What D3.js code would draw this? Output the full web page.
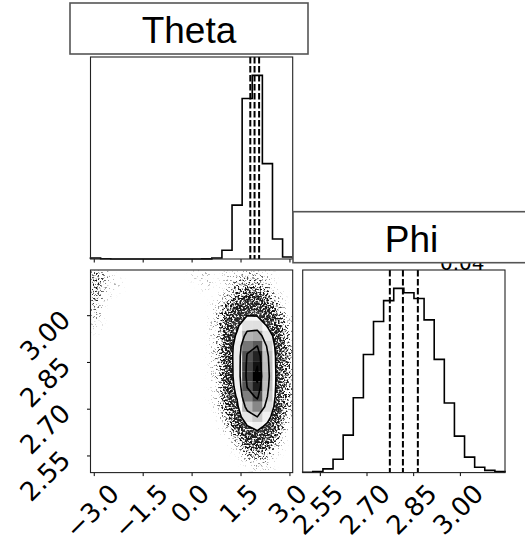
<!DOCTYPE html>
<html>
<head>
<meta charset="utf-8">
<script src="https://cdn.jsdelivr.net/npm/d3@7"></script>
<style>
  body { margin: 0; background: #fff; }
  svg { display: block; }
  .tick-label { font-family: "DejaVu Sans", sans-serif; font-size: 26px; fill: #000; }
  .title-text { font-family: "Liberation Sans", Arial, sans-serif; font-size: 37px; fill: #000; }
</style>
</head>
<body>
<svg id="chart" width="525" height="547"></svg>
<script>
// parameters and the ranges used for binning
var paramNames = ["Theta", "Phi"];
var thetaRange = [-3.1, 3.1];
var phiRange = [2.495, 3.145];
var nBins = 20;

// 1d histogram counts, 20 bins each
var thetaCounts = [19, 4, 1, 0, 0, 0, 0, 0, 0, 0, 1, 2, 19, 166, 1024, 3051, 3490, 1812, 381, 38];
var phiCounts = [2, 7, 25, 89, 249, 497, 784, 1003, 1142, 1223, 1194, 1156, 1014, 752, 462, 242, 103, 36, 15, 7];

// 16 / 50 / 84 % quantiles (dashed lines)
var thetaQuantiles = [1.80, 1.93, 2.07];
var phiQuantiles = [2.775, 2.817, 2.865];

// tick values
var thetaTicks = [-3.0, -1.5, 0.0, 1.5, 3.0];
var phiTicks = [2.55, 2.70, 2.85, 3.00];

// hidden part of the phi title (mostly covered by the label box)
var phiTitleTail = "0.04";

// 2d histogram around the mode: theta bins 12..19, rows = phi bins 19 (top) .. 0
var coreThetaBins = [12, 13, 14, 15, 16, 17, 18, 19];
var coreCounts = [
  [0, 1, 1, 2, 2, 1, 0, 0],
  [0, 1, 3, 5, 4, 2, 0, 0],
  [0, 2, 6, 12, 10, 5, 1, 0],
  [1, 5, 18, 33, 30, 13, 3, 0],
  [2, 10, 38, 77, 72, 35, 7, 1],
  [2, 14, 62, 148, 150, 70, 14, 2],
  [2, 15, 90, 235, 250, 130, 27, 3],
  [2, 17, 115, 315, 345, 180, 36, 4],
  [2, 18, 122, 355, 400, 210, 44, 5],
  [2, 17, 120, 370, 415, 220, 45, 5],
  [2, 17, 118, 375, 430, 228, 48, 5],
  [1, 15, 105, 350, 405, 215, 46, 5],
  [1, 13, 85, 305, 360, 195, 40, 4],
  [1, 8, 58, 230, 295, 157, 31, 4],
  [0, 4, 32, 140, 195, 105, 19, 2],
  [0, 2, 14, 68, 100, 55, 9, 1],
  [0, 0, 4, 24, 36, 21, 4, 0],
  [0, 0, 1, 6, 10, 7, 1, 0],
  [0, 0, 0, 2, 3, 2, 0, 0],
  [0, 0, 0, 0, 1, 1, 0, 0]
];
// stray samples away from the mode: [theta bin, phi bin, count]
var strayCells = [
  [0, 19, 4], [1, 19, 2], [0, 18, 5], [1, 18, 1], [2, 18, 1], [0, 17, 4], [1, 17, 1],
  [0, 16, 3], [0, 15, 2], [0, 14, 1], [10, 19, 1], [11, 19, 1], [11, 18, 1]
];

// corner style contour levels (0.5, 1, 1.5, 2 sigma)
var sigmas = [0.5, 1, 1.5, 2];

var svg = d3.select("#chart");
var defs = svg.append("defs");

var boxTheta = {x0: 90.5, x1: 292.7, y0: 57, y1: 259};
var boxPhi = {x0: 302.7, x1: 505, y0: 270, y1: 472.6};
var boxScatter = {x0: 90.5, x1: 292.7, y0: 270, y1: 472.6};

var thetaX = d3.scaleLinear().domain(thetaRange).range([boxTheta.x0, boxTheta.x1]);
var phiX = d3.scaleLinear().domain(phiRange).range([boxPhi.x0, boxPhi.x1]);
var phiY = d3.scaleLinear().domain(phiRange).range([boxScatter.y1, boxScatter.y0]);

var thetaEdges = d3.range(nBins + 1).map(function(i) { return thetaRange[0] + i * (thetaRange[1] - thetaRange[0]) / nBins; });
var phiEdges = d3.range(nBins + 1).map(function(i) { return phiRange[0] + i * (phiRange[1] - phiRange[0]) / nBins; });

// ---------- 1d histograms ----------
function drawHist(counts, edges, x, box, quants) {
  var y = d3.scaleLinear().domain([0, 1.1 * d3.max(counts)]).range([box.y1, box.y0]);
  var g = svg.append("g");
  var pts = [[x(edges[0]), y(0)]];
  counts.forEach(function(c, i) {
    pts.push([x(edges[i]), y(c)]);
    pts.push([x(edges[i + 1]), y(c)]);
  });
  pts.push([x(edges[nBins]), y(0)]);
  g.append("path")
    .attr("d", d3.line()(pts))
    .attr("fill", "none")
    .attr("stroke", "#000")
    .attr("stroke-width", 1.6);
  g.selectAll("line.q")
    .data(quants)
    .enter().append("line")
    .attr("class", "q")
    .attr("x1", function(d) { return x(d); })
    .attr("x2", function(d) { return x(d); })
    .attr("y1", box.y0)
    .attr("y2", box.y1)
    .attr("stroke", "#000")
    .attr("stroke-width", 2)
    .attr("stroke-dasharray", "6.5,2.5");
}
drawHist(thetaCounts, thetaEdges, thetaX, boxTheta, thetaQuantiles);
drawHist(phiCounts, phiEdges, phiX, boxPhi, phiQuantiles);

// ---------- 2d histogram ----------
var H = d3.range(nBins).map(function() { return d3.range(nBins).map(function() { return 0; }); }); // H[phiBin][thetaBin]
coreCounts.forEach(function(row, r) {
  var pb = nBins - 1 - r;
  row.forEach(function(c, k) { H[pb][coreThetaBins[k]] += c; });
});
strayCells.forEach(function(s) { H[s[1]][s[0]] += s[2]; });

var cells = [];
H.forEach(function(row, pb) {
  row.forEach(function(c, tb) { if (c > 0) cells.push({tb: tb, pb: pb, n: c}); });
});
var hMax = d3.max(cells, function(d) { return d.n; });

// contour thresholds from enclosed mass
var flat = cells.map(function(d) { return d.n; }).sort(function(a, b) { return b - a; });
var total = d3.sum(flat);
var cum = d3.cumsum(flat).map(function(v) { return v / total; });
var V = sigmas.map(function(s) {
  var lev = 1 - Math.exp(-0.5 * s * s);
  var v = flat[0];
  for (var i = 0; i < flat.length; i++) { if (cum[i] <= lev) v = flat[i]; }
  return v;
}).sort(function(a, b) { return a - b; });

// grid values for d3.contours (row 0 = top)
var grid = [];
for (var j = 0; j < nBins; j++) {
  for (var i = 0; i < nBins; i++) grid.push(H[nBins - 1 - j][i]);
}
var binW = (thetaRange[1] - thetaRange[0]) / nBins;
var binH = (phiRange[1] - phiRange[0]) / nBins;
var gridPath = d3.geoPath(d3.geoTransform({
  point: function(cx, cy) {
    this.stream.point(thetaX(thetaRange[0] + cx * binW), phiY(phiRange[1] - cy * binH));
  }
}));
var contours = d3.contours().size([nBins, nBins]).smooth(true);

defs.append("clipPath").attr("id", "clipScatter")
  .append("rect")
  .attr("x", boxScatter.x0).attr("y", boxScatter.y0)
  .attr("width", boxScatter.x1 - boxScatter.x0).attr("height", boxScatter.y1 - boxScatter.y0);

// blurred density, then broken into speckles with a noise texture
var flt = defs.append("filter").attr("id", "cloud")
  .attr("filterUnits", "userSpaceOnUse")
  .attr("x", boxScatter.x0 - 20).attr("y", boxScatter.y0 - 20)
  .attr("width", boxScatter.x1 - boxScatter.x0 + 40).attr("height", boxScatter.y1 - boxScatter.y0 + 40)
  .attr("color-interpolation-filters", "sRGB");
flt.append("feGaussianBlur").attr("in", "SourceAlpha").attr("stdDeviation", 3.6).attr("result", "dens");
flt.append("feTurbulence").attr("type", "fractalNoise").attr("baseFrequency", 0.55)
  .attr("numOctaves", 2).attr("seed", 7).attr("result", "noise");
flt.append("feColorMatrix").attr("in", "noise").attr("type", "matrix")
  .attr("values", "0 0 0 0 0  0 0 0 0 0  0 0 0 0 0  2.6 0 0 0 -0.8").attr("result", "nz");
flt.append("feComposite").attr("in", "dens").attr("in2", "nz").attr("operator", "arithmetic")
  .attr("k1", 0).attr("k2", 1).attr("k3", -1).attr("k4", 0).attr("result", "diff");
var ct = flt.append("feComponentTransfer").attr("in", "diff").attr("result", "mask0");
ct.append("feFuncA").attr("type", "linear").attr("slope", 2.1).attr("intercept", 0);
flt.append("feGaussianBlur").attr("in", "mask0").attr("stdDeviation", 0.45).attr("result", "mask");
flt.append("feFlood").attr("flood-color", "#111").attr("result", "ink");
flt.append("feComposite").attr("in", "ink").attr("in2", "mask").attr("operator", "in");

var sc = svg.append("g").attr("clip-path", "url(#clipScatter)");

// sample cloud
sc.append("g")
  .attr("filter", "url(#cloud)")
  .selectAll("rect")
  .data(cells)
  .enter().append("rect")
  .attr("x", function(d) { return thetaX(thetaEdges[d.tb]); })
  .attr("y", function(d) { return phiY(phiEdges[d.pb + 1]); })
  .attr("width", function(d) { return thetaX(thetaEdges[d.tb + 1]) - thetaX(thetaEdges[d.tb]); })
  .attr("height", function(d) { return phiY(phiEdges[d.pb]) - phiY(phiEdges[d.pb + 1]); })
  .attr("fill", "#000")
  .attr("fill-opacity", function(d) { return 1 - Math.exp(-0.21 * d.n); });

// white base fill inside the outer contour
sc.append("path")
  .attr("d", gridPath(contours.thresholds([V[0]])(grid)[0]))
  .attr("fill", "#fff");

// density shading
sc.append("g")
  .selectAll("rect")
  .data(cells)
  .enter().append("rect")
  .attr("x", function(d) { return thetaX(thetaEdges[d.tb]); })
  .attr("y", function(d) { return phiY(phiEdges[d.pb + 1]); })
  .attr("width", function(d) { return thetaX(thetaEdges[d.tb + 1]) - thetaX(thetaEdges[d.tb]); })
  .attr("height", function(d) { return phiY(phiEdges[d.pb]) - phiY(phiEdges[d.pb + 1]); })
  .attr("fill", function(d) { var t = d.n / hMax; var c = Math.round(255 * (1 - t)); return d3.rgb(c, c, c); })
  .attr("fill-opacity", function(d) { return d.n / hMax; });

// contour lines
sc.append("g")
  .selectAll("path")
  .data(contours.thresholds(V)(grid))
  .enter().append("path")
  .attr("d", gridPath)
  .attr("fill", "none")
  .attr("stroke", "#000")
  .attr("stroke-width", 1.6)
  .attr("stroke-linejoin", "round");

// ---------- axes ----------
function tickAxis(axis, tx, ty) {
  var g = svg.append("g").attr("transform", "translate(" + tx + "," + ty + ")")
    .call(axis.tickSize(3.5).tickSizeOuter(0).tickFormat(""));
  g.select(".domain").remove();
  g.selectAll(".tick line").attr("stroke", "#000").attr("stroke-width", 1);
  return g;
}
tickAxis(d3.axisBottom(thetaX).tickValues(thetaTicks), 0, boxTheta.y1);
tickAxis(d3.axisBottom(thetaX).tickValues(thetaTicks), 0, boxScatter.y1);
tickAxis(d3.axisBottom(phiX).tickValues(phiTicks), 0, boxPhi.y1);
tickAxis(d3.axisLeft(phiY).tickValues(phiTicks), boxScatter.x0, 0);

var capH = 0.729 * 26;
function xLabels(ticks, scale, fmt) {
  ticks.forEach(function(v) {
    var t = svg.append("text").attr("class", "tick-label").attr("text-anchor", "end").text(fmt(v));
    var w = t.node().getComputedTextLength();
    var ax = scale(v) - 2 + 0.3535 * (w + capH);
    var ay = 482 + 0.707 * capH;
    t.attr("transform", "translate(" + ax + "," + ay + ") rotate(-45)");
  });
}
xLabels(thetaTicks, thetaX, d3.format(".1f"));
xLabels(phiTicks, phiX, d3.format(".2f"));

phiTicks.forEach(function(v) {
  var t = svg.append("text").attr("class", "tick-label").attr("text-anchor", "end").text(d3.format(".2f")(v));
  var w = t.node().getComputedTextLength();
  var ax = 72;
  var ay = phiY(v) + 20 - 0.3535 * (w + capH) + 0.707 * capH;
  t.attr("transform", "translate(" + ax + "," + ay + ") rotate(-45)");
});

// ---------- panel frames ----------
[boxTheta, boxPhi, boxScatter].forEach(function(b) {
  svg.append("rect")
    .attr("x", b.x0).attr("y", b.y0)
    .attr("width", b.x1 - b.x0).attr("height", b.y1 - b.y0)
    .attr("fill", "none").attr("stroke", "#222").attr("stroke-width", 1.1);
});

// ---------- title boxes ----------
svg.append("text")
  .attr("x", 440).attr("y", 269.5)
  .style("font-family", "DejaVu Sans, sans-serif")
  .style("font-size", "20px")
  .text(phiTitleTail);

var labelBoxes = [
  {name: paramNames[0], x0: 70, x1: 308, y0: 3, y1: 54},
  {name: paramNames[1], x0: 293, x1: 530, y0: 211.7, y1: 262.7}
];
labelBoxes.forEach(function(b) {
  svg.append("rect")
    .attr("x", b.x0).attr("y", b.y0)
    .attr("width", b.x1 - b.x0).attr("height", b.y1 - b.y0)
    .attr("fill", "#fff").attr("stroke", "#555").attr("stroke-width", 1.6);
  svg.append("text")
    .attr("class", "title-text")
    .attr("x", (b.x0 + b.x1) / 2)
    .attr("y", b.y1 - 11)
    .attr("text-anchor", "middle")
    .text(b.name);
});
</script>
</body>
</html>
